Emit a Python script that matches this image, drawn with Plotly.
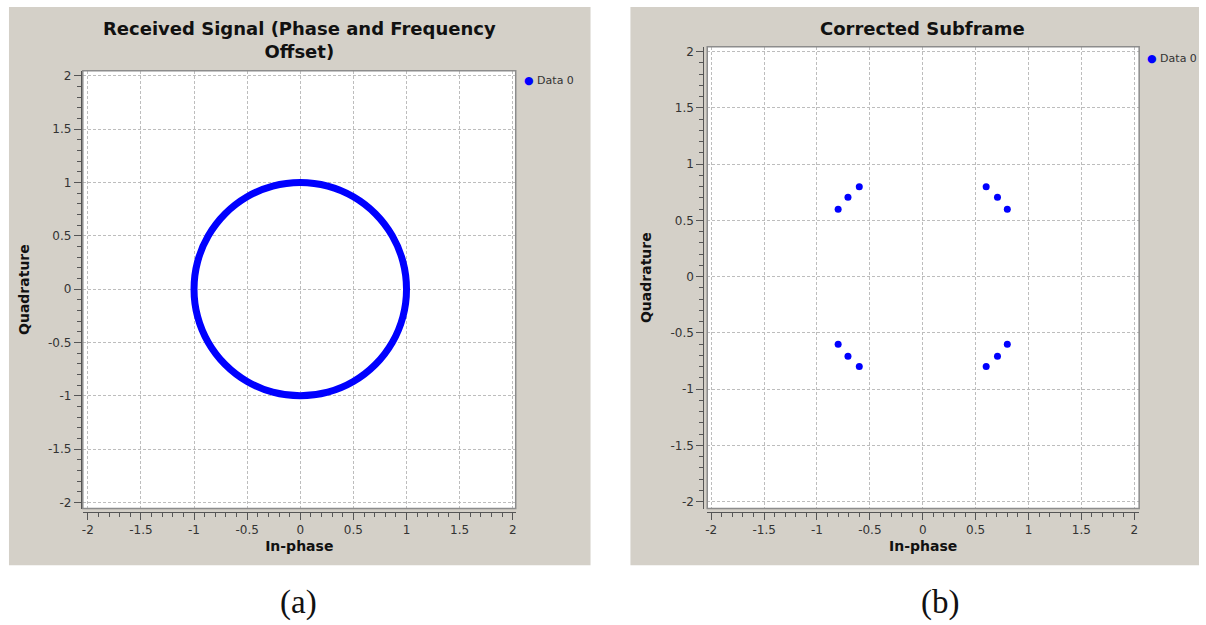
import plotly.graph_objects as go

# ---------------- data ----------------
# (a) received signal samples on the unit circle (In-phase, Quadrature)
rx_i = [1.0, 0.966, 0.866, 0.707, 0.5, 0.259, 0.0, -0.259, -0.5, -0.707, -0.866, -0.966,
        -1.0, -0.966, -0.866, -0.707, -0.5, -0.259, 0.0, 0.259, 0.5, 0.707, 0.866, 0.966, 1.0]
rx_q = [0.0, 0.259, 0.5, 0.707, 0.866, 0.966, 1.0, 0.966, 0.866, 0.707, 0.5, 0.259,
        0.0, -0.259, -0.5, -0.707, -0.866, -0.966, -1.0, -0.966, -0.866, -0.707, -0.5, -0.259, 0.0]

# (b) corrected subframe constellation points
cs_i = [0.6, 0.707, 0.8, -0.6, -0.707, -0.8, -0.6, -0.707, -0.8, 0.6, 0.707, 0.8]
cs_q = [0.8, 0.707, 0.6, 0.8, 0.707, 0.6, -0.8, -0.707, -0.6, -0.8, -0.707, -0.6]

tick_vals = [-2, -1.5, -1, -0.5, 0, 0.5, 1, 1.5, 2]
tick_text = ["-2", "-1.5", "-1", "-0.5", "0", "0.5", "1", "1.5", "2"]

titles = ["Received Signal (Phase and Frequency<br>Offset)", "Corrected Subframe"]
x_title = "In-phase"
y_title = "Quadrature"
legend_name = "Data 0"
captions = ["(a)", "(b)"]

# ---------------- layout helpers ----------------
W, H = 1206, 625
def px(x):
    return x / W
def py(y):
    return 1 - y / H

PANEL_BG = "#d4d0c8"
BLUE = "#0000ff"
GRID = "#bdbdbd"
TXT = "#333333"
FONT = "DejaVu Sans"

fig = go.Figure()

fig.add_trace(go.Scatter(x=rx_i, y=rx_q, mode="lines", name=legend_name,
                         line=dict(color=BLUE, width=7, shape="spline"),
                         xaxis="x", yaxis="y", showlegend=False))
fig.add_trace(go.Scatter(x=cs_i, y=cs_q, mode="markers", name=legend_name,
                         marker=dict(color=BLUE, size=7),
                         xaxis="x2", yaxis="y2", showlegend=False))

def xaxis(domain, rng):
    return dict(domain=domain, range=rng, anchor="free", position=py(512),
                tickmode="array", tickvals=tick_vals, ticktext=tick_text,
                ticks="outside", ticklen=7, tickcolor="#555555", tickwidth=1,
                showline=True, linecolor="#555555", linewidth=1,
                minor=dict(dtick=0.1, tick0=-2, ticks="outside", ticklen=4,
                           tickcolor="#555555", showgrid=False),
                showgrid=True, gridcolor=GRID, griddash="3px,2px", gridwidth=1,
                zeroline=False, tickfont=dict(family=FONT, size=12, color=TXT),
                title=dict(text=x_title, font=dict(family=FONT, size=14, color="#111111", weight="bold"),
                           standoff=5),
                fixedrange=True)

def yaxis(domain, rng, pos):
    return dict(domain=domain, range=rng, anchor="free", position=pos,
                tickmode="array", tickvals=tick_vals, ticktext=tick_text,
                ticks="outside", ticklen=7, tickcolor="#555555", tickwidth=1,
                showline=True, linecolor="#555555", linewidth=1,
                minor=dict(dtick=0.1, tick0=-2, ticks="outside", ticklen=4,
                           tickcolor="#555555", showgrid=False),
                showgrid=True, gridcolor=GRID, griddash="3px,2px", gridwidth=1,
                zeroline=False, tickfont=dict(family=FONT, size=12, color=TXT),
                title=dict(text=y_title, font=dict(family=FONT, size=14, color="#111111", weight="bold"),
                           standoff=14),
                fixedrange=True)

L = dict(x0=81, x1=515, y0=69, y1=509)
R = dict(x0=707, x1=1140, y0=45, y1=509)

fig.update_layout(
    width=W, height=H, margin=dict(l=0, r=0, t=0, b=0),
    paper_bgcolor="white", plot_bgcolor="white",
    showlegend=False,
    xaxis=xaxis([px(L["x0"]), px(L["x1"])], [-2.047, 2.028]),
    yaxis=yaxis([py(L["y1"]), py(L["y0"])], [-2.056, 2.047], px(79)),
    xaxis2=xaxis([px(R["x0"]), px(R["x1"])], [-2.038, 2.047]),
    yaxis2=yaxis([py(R["y1"]), py(R["y0"])], [-2.062, 2.044], px(703)),
)

shapes = []
# gray panels
for (x0, x1) in [(7, 590), (630, 1200)]:
    shapes.append(dict(type="rect", xref="paper", yref="paper", x0=px(x0), x1=px(x1),
                       y0=py(566), y1=py(5), fillcolor=PANEL_BG, line=dict(width=0), layer="below"))
# white canvases and frames
for b in (L, R):
    shapes.append(dict(type="rect", xref="paper", yref="paper", x0=px(b["x0"]), x1=px(b["x1"]),
                       y0=py(b["y1"]), y1=py(b["y0"]), fillcolor="white",
                       line=dict(width=0), layer="below"))
    shapes.append(dict(type="rect", xref="paper", yref="paper", x0=px(b["x0"]), x1=px(b["x1"]),
                       y0=py(b["y1"]), y1=py(b["y0"]), fillcolor="rgba(0,0,0,0)",
                       line=dict(width=1.5, color="#8c8c8c"), layer="above"))
fig.update_layout(shapes=shapes)

ann = []
# panel titles
ann.append(dict(text=titles[0], x=px(298), y=py(38), xref="paper", yref="paper",
                showarrow=False, font=dict(family=FONT, size=18, color="#111111", weight="bold"),
                xanchor="center", yanchor="middle"))
ann.append(dict(text=titles[1], x=px(923), y=py(27), xref="paper", yref="paper",
                showarrow=False, font=dict(family=FONT, size=18, color="#111111", weight="bold"),
                xanchor="center", yanchor="middle"))
# legends
for (lx, ly) in [(521, 79), (1146, 57)]:
    ann.append(dict(text="<span style='color:#0000ff'>●</span> " + legend_name,
                    x=px(lx), y=py(ly), xref="paper", yref="paper", showarrow=False,
                    font=dict(family=FONT, size=11, color=TXT), xanchor="left", yanchor="middle"))
# captions
for (cx, t) in [(297, captions[0]), (940, captions[1])]:
    ann.append(dict(text=t, x=px(cx), y=py(603), xref="paper", yref="paper", showarrow=False,
                    font=dict(family="Liberation Serif", size=33, color="#111111"),
                    xanchor="center", yanchor="middle"))
fig.update_layout(annotations=ann)

fig.write_html("out.html")
